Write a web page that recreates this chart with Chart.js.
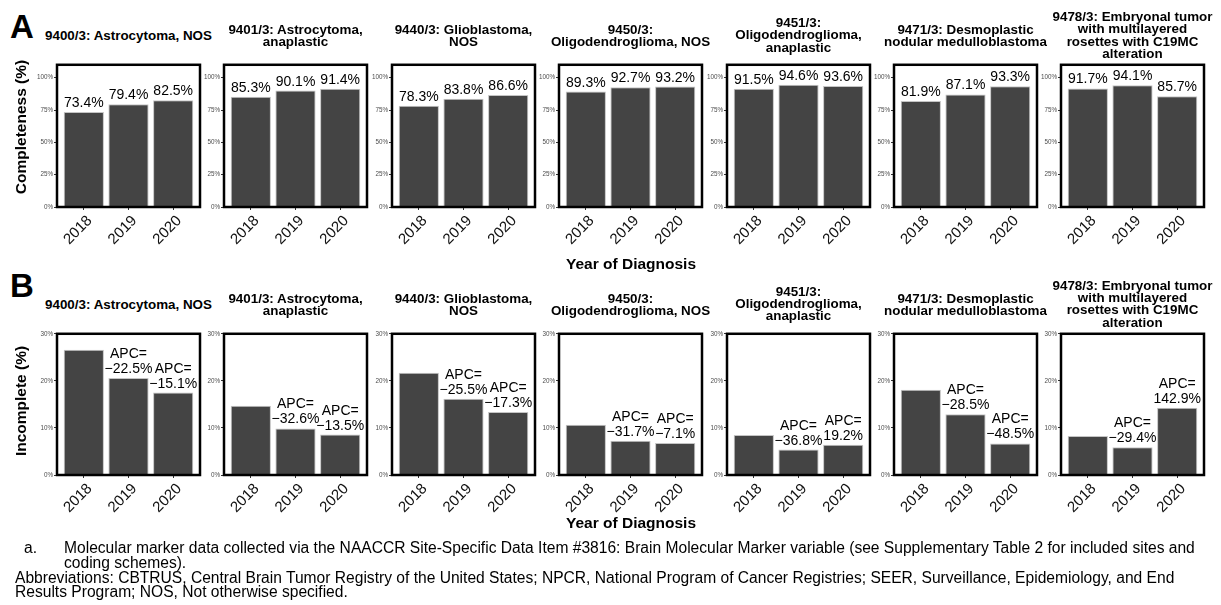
<!DOCTYPE html>
<html>
<head>
<meta charset="utf-8">
<title>Molecular marker completeness by year</title>
<script src="https://cdn.jsdelivr.net/npm/chart.js@4.4.1/dist/chart.umd.min.js"></script>
<style>
  body { margin: 0; background: #fff; font-family: "Liberation Sans", Arial, sans-serif; color: #000; }
  #fig { position: relative; width: 1221px; height: 605px; overflow: hidden; }
  #fig canvas { position: absolute; }
  .letter { position: absolute; left: 10px; font-weight: bold; font-size: 33px; line-height: 33px; }
  .title { position: absolute; width: 200px; text-align: center; font-weight: bold; font-size: 13.4px; line-height: 12.4px; transform: translateY(-50%); white-space: nowrap; }
  .ytitle { position: absolute; left: 21px; font-weight: bold; font-size: 15.5px; white-space: nowrap; transform: translate(-50%, -50%) rotate(-90deg); }
  .xtitle { position: absolute; left: 631px; font-weight: bold; font-size: 15.5px; white-space: nowrap; transform: translate(-50%, -50%); }
  .note { position: absolute; font-size: 15.6px; line-height: 14.8px; white-space: nowrap; }
</style>
</head>
<body>
<div id="fig"></div>
<script>
// years on the x axis of every panel
const years = ['2018', '2019', '2020'];

// panel titles, one entry of lines per histology
const titles = [
    ['9400/3: Astrocytoma, NOS'],
    ['9401/3: Astrocytoma,', 'anaplastic'],
    ['9440/3: Glioblastoma,', 'NOS'],
    ['9450/3:', 'Oligodendroglioma, NOS'],
    ['9451/3:', 'Oligodendroglioma,', 'anaplastic'],
    ['9471/3: Desmoplastic', 'nodular medulloblastoma'],
    ['9478/3: Embryonal tumor', 'with multilayered', 'rosettes with C19MC', 'alteration']
];

// % of cases with a molecular marker recorded (panel A)
const completePct = [
    [73.4, 79.4, 82.5],
    [85.3, 90.1, 91.4],
    [78.3, 83.8, 86.6],
    [89.3, 92.7, 93.2],
    [91.5, 94.6, 93.6],
    [81.9, 87.1, 93.3],
    [91.7, 94.1, 85.7]
];

// % of cases with the marker missing (panel B)
const incompletePct = [
    [26.6, 20.6, 17.5],
    [14.7, 9.9, 8.6],
    [21.7, 16.2, 13.4],
    [10.7, 7.3, 6.8],
    [8.5, 5.4, 6.4],
    [18.1, 12.9, 6.7],
    [8.3, 5.9, 14.3]
];

// annual percent change of incompleteness vs previous year
const apcPct = [
    [null, -22.5, -15.1],
    [null, -32.6, -13.5],
    [null, -25.5, -17.3],
    [null, -31.7, -7.1],
    [null, -36.8, 19.2],
    [null, -28.5, -48.5],
    [null, -29.4, 142.9]
];

const yTicksA = [0, 25, 50, 75, 100];
const yTicksB = [0, 10, 20, 30];

// layout of the panel grid
const boxLeft = [57, 224, 392, 559, 727, 894, 1061];
const BOX_W = 143;
const AXIS_W = 32;
const X_H = 45;
const PAD_T = 3;
const PAD_R = 4;

Chart.defaults.font.family = '"Liberation Sans", Arial, sans-serif';

const fig = document.getElementById('fig');

function fmtPct(v) {
    const s = Math.abs(v).toFixed(1) + '%';
    return v < 0 ? '\u2212' + s : s;
}

// thick black frame round the plotting area
const panelBorder = {
    id: 'panelBorder',
    afterDatasetsDraw(chart) {
        const { ctx, chartArea: a } = chart;
        ctx.save();
        ctx.strokeStyle = '#000';
        ctx.lineWidth = 2.5;
        ctx.strokeRect(a.left, a.top, a.width, a.height);
        ctx.restore();
    }
};

// text above each bar, bottom line first
function barLabels(labels) {
    return {
        id: 'barLabels',
        afterDatasetsDraw(chart) {
            const ctx = chart.ctx;
            const meta = chart.getDatasetMeta(0);
            ctx.save();
            ctx.font = '14px "Liberation Sans", Arial, sans-serif';
            ctx.fillStyle = '#000';
            ctx.textAlign = 'center';
            ctx.textBaseline = 'alphabetic';
            meta.data.forEach((bar, k) => {
                const lines = labels[k];
                if (!lines) return;
                lines.slice().reverse().forEach((t, j) => {
                    ctx.fillText(t, bar.x, bar.y - 5 - j * 15);
                });
            });
            ctx.restore();
        }
    };
}

function addText(cls, html, style) {
    const d = document.createElement('div');
    d.className = cls;
    d.innerHTML = html;
    Object.assign(d.style, style);
    fig.appendChild(d);
}

function makePanel(i, values, labels, boxTop, boxH, yMax, yTicks) {
    const canvas = document.createElement('canvas');
    canvas.width = AXIS_W + BOX_W + PAD_R;
    canvas.height = PAD_T + boxH + X_H;
    canvas.style.left = (boxLeft[i] - AXIS_W) + 'px';
    canvas.style.top = (boxTop - PAD_T) + 'px';
    fig.appendChild(canvas);

    new Chart(canvas, {
        type: 'bar',
        data: {
            datasets: [{
                data: values.map((v, k) => ({ x: k, y: v })),
                backgroundColor: '#444444',
                borderColor: '#c4c4c4',
                borderWidth: 1,
                barPercentage: 0.9,
                categoryPercentage: 1
            }]
        },
        options: {
            responsive: false,
            animation: false,
            layout: { padding: { top: PAD_T, right: PAD_R, left: 0, bottom: 0 } },
            plugins: { legend: { display: false }, tooltip: { enabled: false } },
            scales: {
                x: {
                    type: 'linear',
                    min: -0.6,
                    max: 2.6,
                    offset: false,
                    afterBuildTicks: s => { s.ticks = years.map((_, k) => ({ value: k })); },
                    afterFit: s => { s.height = X_H; },
                    ticks: {
                        callback: v => years[v],
                        minRotation: 45,
                        maxRotation: 45,
                        labelOffset: 6,
                        font: { size: 15 },
                        color: '#111',
                        padding: 2
                    },
                    grid: { offset: false, drawOnChartArea: false, tickLength: 3, color: '#333' },
                    border: { display: false }
                },
                y: {
                    min: 0,
                    max: yMax,
                    afterBuildTicks: s => { s.ticks = yTicks.map(v => ({ value: v })); },
                    afterFit: s => { s.width = AXIS_W; },
                    ticks: {
                        callback: v => v + '%',
                        font: { size: 6.3 },
                        color: '#4d4d4d',
                        padding: 1
                    },
                    grid: { drawOnChartArea: false, tickLength: 3, color: '#333' },
                    border: { display: false }
                }
            }
        },
        plugins: [panelBorder, barLabels(labels)]
    });
}

// panel A: completeness
completePct.forEach((vals, i) => {
    makePanel(i, vals, vals.map(v => [v.toFixed(1) + '%']), 63, 144, 110, yTicksA);
    addText('title', titles[i].join('<br>'), { left: (boxLeft[i] + BOX_W / 2 - 100) + 'px', top: '36px' });
});

// panel B: incompleteness with APC
incompletePct.forEach((vals, i) => {
    const labels = apcPct[i].map(a => a === null ? null : ['APC=', fmtPct(a)]);
    makePanel(i, vals, labels, 332, 143, 30, yTicksB);
    addText('title', titles[i].join('<br>'), { left: (boxLeft[i] + BOX_W / 2 - 100) + 'px', top: '304.5px' });
});

addText('letter', 'A', { top: '10px' });
addText('letter', 'B', { top: '269px' });
addText('ytitle', 'Completeness (%)', { top: '127px' });
addText('ytitle', 'Incomplete (%)', { top: '401px' });
addText('xtitle', 'Year of Diagnosis', { top: '264px' });
addText('xtitle', 'Year of Diagnosis', { top: '523px' });

addText('note', 'a.', { left: '24px', top: '541px' });
addText('note', 'Molecular marker data collected via the NAACCR Site-Specific Data Item #3816: Brain Molecular Marker variable (see Supplementary Table 2 for included sites and<br>coding schemes).', { left: '64px', top: '541px' });
addText('note', 'Abbreviations: CBTRUS, Central Brain Tumor Registry of the United States; NPCR, National Program of Cancer Registries; SEER, Surveillance, Epidemiology, and End<br>Results Program; NOS, Not otherwise specified.', { left: '15px', top: '570.6px' });
</script>
</body>
</html>
